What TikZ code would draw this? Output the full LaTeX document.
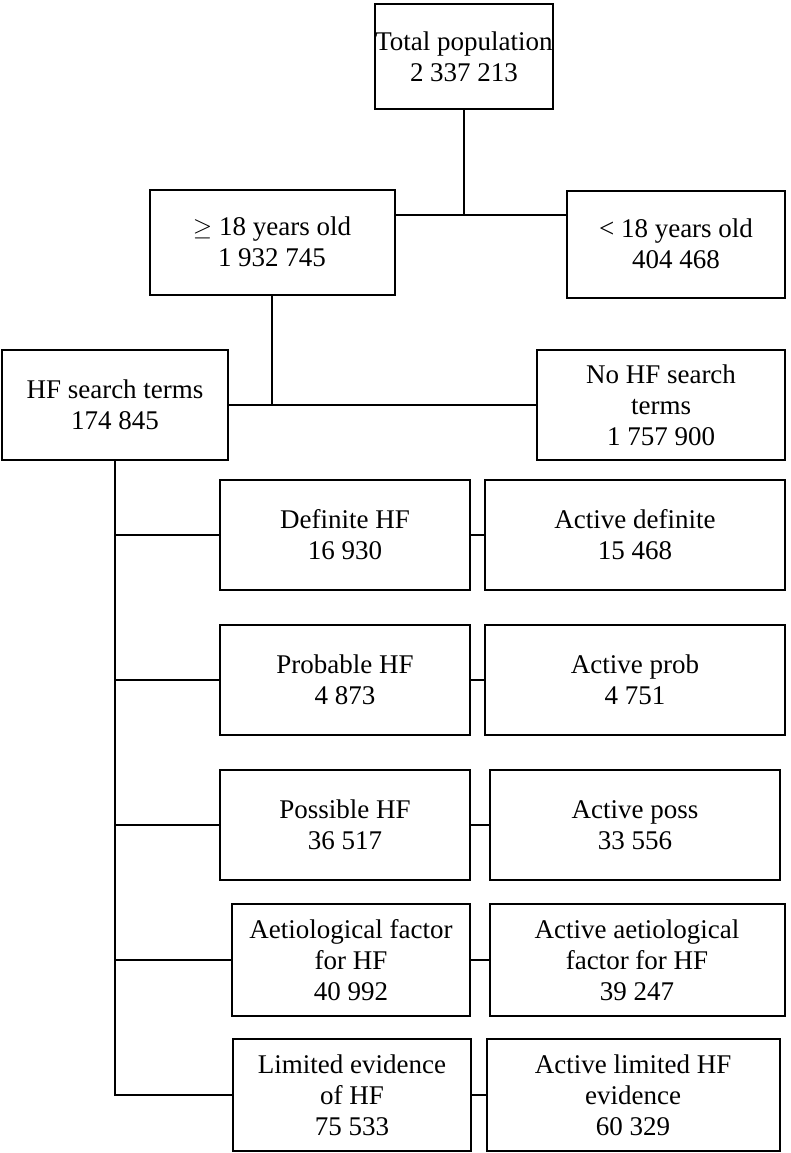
\documentclass[tikz,border=0pt]{standalone}
\usepackage{fontspec}
\setmainfont{Liberation Serif}
\tikzset{
  flowbox/.style={draw, line width=2pt, align=center, inner sep=0pt,
    font=\fontsize{27}{31}\selectfont},
  link/.style={line width=2pt}
}
\begin{document}
\begin{tikzpicture}[x=1pt,y=-1pt]
\useasboundingbox (0,0) rectangle (790,1153);
% top level
\node[flowbox, minimum width=167pt, minimum height=105pt] (total) at (464,57) {Total population\\2 337 213};
\node[flowbox, minimum width=245pt, minimum height=105pt] (adult) at (272,242) {$\geq$ 18 years old\\1 932 745};
\node[flowbox, minimum width=218pt, minimum height=107pt] (child) at (676,244) {\textless{} 18 years old\\404 468};
\coordinate (split1) at (total.south |- 0,215);
\draw[link] (total.south) -- (split1);
\draw[link] (adult.east |- split1) -- (child.west |- split1);
% search terms
\node[flowbox, minimum width=226pt, minimum height=110pt] (hf) at (115,405) {HF search terms\\174 845};
\node[flowbox, minimum width=248pt, minimum height=110pt] (nohf) at (661,405) {No HF search\\terms\\1 757 900};
\coordinate (split2) at (adult.south |- hf.east);
\draw[link] (adult.south) -- (split2);
\draw[link] (hf.east) -- (nohf.west);
% categories
\node[flowbox, minimum width=250pt, minimum height=110pt] (defin) at (345,535) {Definite HF\\16 930};
\node[flowbox, minimum width=300pt, minimum height=110pt] (actdef) at (635,535) {Active definite\\15 468};
\node[flowbox, minimum width=250pt, minimum height=110pt] (prob) at (345,680) {Probable HF\\4 873};
\node[flowbox, minimum width=300pt, minimum height=110pt] (actprob) at (635,680) {Active prob\\4 751};
\node[flowbox, minimum width=250pt, minimum height=110pt] (poss) at (345,825) {Possible HF\\36 517};
\node[flowbox, minimum width=290pt, minimum height=110pt] (actposs) at (635,825) {Active poss\\33 556};
\node[flowbox, minimum width=238pt, minimum height=112pt] (aet) at (351,960) {Aetiological factor\\for HF\\40 992};
\node[flowbox, minimum width=295pt, minimum height=112pt] (actaet) at (637,960) {Active aetiological\\factor for HF\\39 247};
\node[flowbox, minimum width=238pt, minimum height=112pt] (lim) at (352,1095) {Limited evidence\\of HF\\75 533};
\node[flowbox, minimum width=293pt, minimum height=112pt] (actlim) at (633,1095) {Active limited HF\\evidence\\60 329};
\coordinate (trunkend) at (hf.south |- lim.west);
\draw[link] (hf.south) -- (trunkend) -- (lim.west);
\foreach \a/\b in {defin/actdef,prob/actprob,poss/actposs,aet/actaet}
  \draw[link] (hf.south |- \a.west) -- (\a.west) (\a.east) -- (\b.west);
\draw[link] (lim.east) -- (actlim.west);
\end{tikzpicture}
\end{document}
